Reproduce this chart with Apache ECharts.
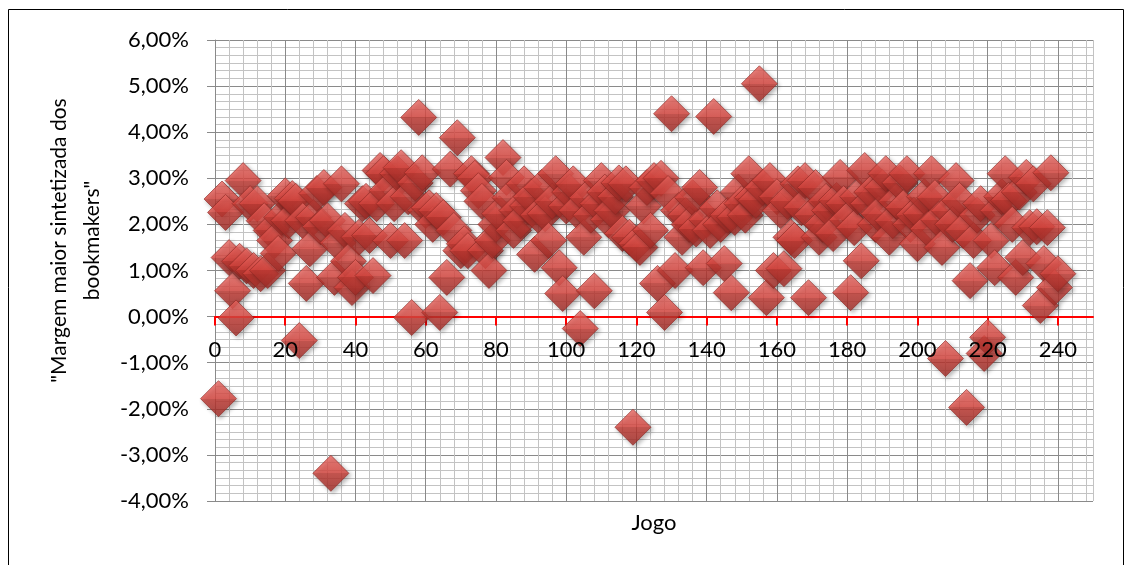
<!DOCTYPE html>
<html>
<head>
<meta charset="utf-8">
<title>Margem maior sintetizada dos bookmakers</title>
<script src="https://cdn.jsdelivr.net/npm/echarts@6/dist/echarts.min.js"></script>
<style>
	html, body { margin: 0; padding: 0; background: #fff; }
	#chart { width: 1132px; height: 565px; }
</style>
</head>
<body>
<div id="chart"></div>
<script>
	// margem (%) por jogo, jogo 1..240
	var margem = [
		-1.78, 2.55, 2.26, 1.28, 0.56, -0.03, 1.20, 2.95, 1.10, 2.45,
		1.00, 2.45, 0.93, 2.08, 1.00, 1.87, 1.65, 1.37, 2.15, 2.62,
		2.08, 2.56, 2.50, -0.52, 2.08, 0.72, 1.47, 2.15, 2.67, 1.95,
		2.80, 2.08, -3.40, 0.85, 1.60, 2.88, 1.87, 1.20, 0.63, 0.85,
		1.72, 2.45, 2.50, 1.76, 0.89, 2.45, 3.17, 3.10, 2.73, 1.65,
		2.45, 3.10, 3.23, 1.65, 2.60, -0.02, 2.90, 4.32, 3.12, 2.30,
		2.36, 2.00, 2.30, 0.09, 2.15, 0.85, 3.20, 1.87, 3.88, 1.43,
		1.58, 1.43, 3.10, 3.00, 2.73, 2.50, 1.43, 1.00, 1.65, 2.00,
		2.23, 3.45, 3.02, 2.58, 1.87, 2.30, 2.08, 2.88, 2.40, 2.60,
		1.35, 2.20, 2.80, 2.23, 1.65, 2.50, 3.10, 1.06, 0.50, 2.40,
		2.70, 2.88, 2.30, -0.26, 1.72, 2.58, 2.20, 0.56, 2.45, 2.95,
		2.70, 2.10, 2.30, 2.60, 2.90, 1.80, 2.88, 1.72, -2.40, 1.58,
		1.50, 2.40, 2.80, 1.87, 2.95, 0.72, 3.00, 0.09, 2.67, 4.40,
		1.00, 2.30, 1.72, 2.20, 2.00, 2.58, 1.90, 2.80, 1.06, 2.10,
		1.87, 4.34, 2.36, 2.00, 1.15, 2.20, 0.52, 2.15, 2.70, 2.45,
		2.20, 3.10, 2.58, 2.52, 5.05, 2.80, 0.41, 2.95, 1.00, 2.60,
		2.30, 1.04, 2.50, 1.72, 1.65, 2.88, 2.36, 2.95, 0.41, 2.20,
		2.80, 1.72, 2.00, 2.50, 2.30, 1.80, 2.52, 3.02, 2.45, 2.10,
		0.52, 1.93, 2.60, 1.21, 3.17, 2.45, 2.70, 2.00, 2.23, 2.80,
		3.10, 1.72, 2.08, 2.50, 2.90, 2.36, 3.10, 2.00, 2.20, 1.58,
		2.23, 2.60, 1.90, 3.10, 2.58, 2.10, 1.50, -0.91, 2.30, 2.00,
		2.95, 2.52, 1.87, -1.97, 0.78, 1.65, 2.20, 2.45, -0.80, -0.45,
		1.65, 1.06, 2.30, 2.60, 3.10, 2.52, 2.00, 0.85, 2.70, 1.28,
		3.02, 1.93, 2.88, 1.95, 0.24, 1.15, 1.93, 3.12, 0.63, 0.93
	];
	var xTicks = [0, 20, 40, 60, 80, 100, 120, 140, 160, 180, 200, 220, 240];
	var yTicks = [-4, -3, -2, -1, 0, 1, 2, 3, 4, 5, 6];

	var pontos = [];
	for (var i = 0; i < margem.length; i++) {
		pontos.push([i + 1, margem[i]]);
	}

	var fonte = 'Lato, "Open Sans", sans-serif';
	var cinza = '#8a8a8a';

	var chart = echarts.init(document.getElementById('chart'), null, { renderer: 'canvas' });
	var option = {
		backgroundColor: '#fff',
		animation: false,
		textStyle: { fontFamily: fonte },
		grid: { left: 215, right: 39, top: 40, bottom: 64, containLabel: false, outerBoundsMode: 'none' },
		graphic: [{
			type: 'rect',
			silent: true,
			shape: { x: 8.5, y: 9.5, width: 1115, height: 570 },
			style: { fill: 'none', stroke: '#000', lineWidth: 1 }
		}],
		xAxis: [{
			type: 'value',
			min: 0,
			max: 250,
			interval: 20,
			name: 'Jogo',
			nameLocation: 'middle',
			nameGap: 11,
			nameTextStyle: { fontSize: 22, color: '#000', fontFamily: fonte },
			axisLine: { onZero: true, lineStyle: { color: '#ff0000', width: 2 } },
			axisTick: { show: true, length: 9, customValues: xTicks, lineStyle: { color: '#ff0000', width: 2 } },
			axisLabel: { show: false },
			splitLine: { show: true, lineStyle: { color: cinza, width: 1 } },
			z: 3
		}, {
			// linhas secundarias da grelha (de 4 em 4)
			type: 'value',
			min: 0,
			max: 250,
			interval: 4,
			position: 'top',
			axisLine: { show: false, onZero: false },
			axisTick: { show: false },
			axisLabel: { show: false },
			splitLine: { show: true, lineStyle: { color: '#c3c3c3', width: 1 } },
			z: 0
		}, {
			// rotulos junto da linha do zero, por cima dos pontos
			type: 'value',
			min: 0,
			max: 250,
			interval: 20,
			position: 'bottom',
			axisLine: { show: false, onZero: false },
			axisTick: { show: false },
			splitLine: { show: false },
			axisLabel: {
				margin: -162,
				fontSize: 22,
				color: '#000',
				fontFamily: fonte,
				customValues: xTicks,
				formatter: function (v) { return String(v); }
			},
			z: 10
		}],
		yAxis: {
			type: 'value',
			min: -4,
			max: 6,
			interval: 1,
			name: '"Margem maior sintetizada dos\nbookmakers"',
			nameLocation: 'middle',
			nameGap: 106,
			nameRotate: 90,
			nameTextStyle: { fontSize: 21, color: '#000', lineHeight: 33, fontFamily: fonte, padding: [0, 0, 0, 60] },
			axisLine: { show: true, onZero: false, lineStyle: { color: cinza } },
			axisTick: { show: true, length: 8, lineStyle: { color: cinza } },
			axisLabel: {
				margin: 26,
				fontSize: 22,
				color: '#000',
				fontFamily: fonte,
				customValues: yTicks,
				formatter: function (v) { return v.toFixed(2).replace('.', ',') + '%'; }
			},
			splitLine: { show: true, lineStyle: { color: cinza, width: 1 } },
			minorTick: { show: false, splitNumber: 6 },
			minorSplitLine: { show: true, lineStyle: { color: '#c3c3c3', width: 1 } }
		},
		series: [{
			type: 'scatter',
			xAxisIndex: 0,
			symbol: 'diamond',
			symbolSize: 36,
			data: pontos,
			z: 5,
			itemStyle: {
				color: new echarts.graphic.LinearGradient(0, 0, 0, 1, [
					{ offset: 0, color: '#ee6a64' },
					{ offset: 0.5, color: '#dc4740' },
					{ offset: 0.5, color: '#c43a33' },
					{ offset: 1, color: '#a32c27' }
				]),
				borderColor: '#8e2823',
				borderWidth: 0.8,
				shadowBlur: 4,
				shadowOffsetX: 2,
				shadowOffsetY: 2,
				shadowColor: 'rgba(0,0,0,0.35)'
			}
		}]
	};
	chart.setOption(option);
	window.addEventListener('resize', function () {
		chart.resize();
	});
</script>
</body>
</html>
